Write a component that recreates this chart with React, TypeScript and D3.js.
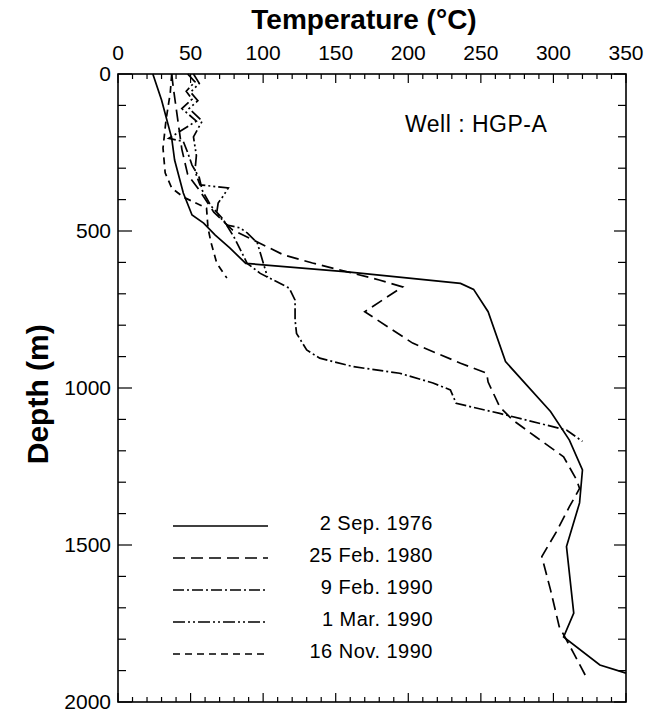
import * as d3 from "d3";

// axis ticks
const tempTicks = [0, 50, 100, 150, 200, 250, 300, 350];
const depthTicks = [0, 500, 1000, 1500, 2000];

// 2 Sep. 1976 (solid)
const sep1976Temp = [24, 30, 37, 39, 45, 51, 59, 67, 77, 88, 158, 236, 245, 255, 267, 298, 311, 320, 318, 309, 314, 307, 332, 350];
const sep1976Depth = [0, 83, 204, 274, 379, 449, 475, 513, 554, 603, 630, 667, 686, 757, 916, 1075, 1166, 1261, 1366, 1505, 1717, 1793, 1882, 1908];

// 25 Feb. 1980 (long dash)
const feb1980Temp = [37, 38, 41, 44, 48, 56, 66, 79, 96, 114, 134, 158, 180, 196, 170, 203, 236, 254, 255, 263, 272, 288, 307, 316, 318, 311, 302, 292, 298, 304, 314, 323];
const feb1980Depth = [0, 40, 140, 240, 320, 370, 440, 497, 535, 576, 602, 630, 656, 678, 757, 857, 921, 953, 981, 1060, 1102, 1156, 1219, 1293, 1320, 1378, 1458, 1537, 1643, 1760, 1845, 1924];

// 9 Feb. 1990 (dash-dot)
const feb1990Temp = [48, 53, 47, 51, 44, 54, 35, 45, 48, 51, 56, 58, 64, 72, 80, 89, 98, 118, 122, 122, 123, 130, 139, 162, 194, 217, 229, 233, 263, 309, 320];
const feb1990Depth = [0, 25, 55, 80, 110, 150, 205, 215, 250, 290, 330, 370, 420, 460, 520, 603, 635, 682, 720, 783, 826, 879, 905, 932, 953, 984, 1006, 1049, 1081, 1134, 1170];

// 1 Mar. 1990 (dash-dot-dot)
const mar1990Temp = [52, 56, 50, 55, 49, 58, 52, 54, 53, 56.5, 76, 72, 69, 68, 72, 75, 84, 89, 96, 103];
const mar1990Depth = [0, 30, 58, 85, 110, 150, 200, 260, 310, 353, 363, 392, 411, 443, 465, 481, 490, 506, 538, 647];

// 16 Nov. 1990 (short dash)
const nov1990Temp = [37, 36, 33, 31, 32.5, 37, 45, 56.5, 61, 62, 64, 68, 75];
const nov1990Depth = [0, 60, 150, 236, 315, 363, 392, 417, 427, 490, 535, 602, 650];

const series = [
  { label: "2 Sep. 1976", temp: sep1976Temp, depth: sep1976Depth, dash: "none" },
  { label: "25 Feb. 1980", temp: feb1980Temp, depth: feb1980Depth, dash: "12,6" },
  { label: "9 Feb. 1990", temp: feb1990Temp, depth: feb1990Depth, dash: "11,3,2,3" },
  { label: "1 Mar. 1990", temp: mar1990Temp, depth: mar1990Depth, dash: "12,3,2,3,2,3" },
  { label: "16 Nov. 1990", temp: nov1990Temp, depth: nov1990Depth, dash: "7,5" },
];

const font = "'Liberation Sans', Arial, Helvetica, sans-serif";

export default function App() {
  const width = 648;
  const height = 720;
  const left = 118, right = 626, top = 74, bottom = 702;

  const x = d3.scaleLinear().domain([0, 350]).range([left, right]);
  const y = d3.scaleLinear().domain([0, 2000]).range([top, bottom]);

  const minorT = x.ticks(35);
  const minorD = y.ticks(20);

  const line = d3
    .line<[number, number]>()
    .x((d) => x(d[0]))
    .y((d) => y(d[1]));

  return (
    <svg
      width={width}
      height={height}
      style={{ position: "absolute", left: 0, top: 0, background: "#fff" }}
      fontFamily={font}
    >
      {/* curves */}
      <g fill="none" stroke="#000" strokeWidth={1.7}>
        {series.map((s) => (
          <path
            key={s.label}
            d={line(s.temp.map((t, i) => [t, s.depth[i]]) as [number, number][]) || ""}
            strokeDasharray={s.dash}
          />
        ))}
      </g>

      {/* frame */}
      <rect x={left} y={top} width={right - left} height={bottom - top} fill="none" stroke="#000" strokeWidth={1.6} />

      {/* ticks on all four sides, pointing inward */}
      <g stroke="#000" strokeWidth={1.2}>
        {minorT.map((t) => {
          const len = t % 50 === 0 ? 9 : 5;
          return (
            <g key={"t" + t}>
              <line x1={x(t)} x2={x(t)} y1={top} y2={top + len} />
              <line x1={x(t)} x2={x(t)} y1={bottom} y2={bottom - len} />
            </g>
          );
        })}
        {minorD.map((d) => {
          const major = d % 500 === 0;
          return (
            <g key={"d" + d}>
              <line x1={left} x2={left + (major ? 14 : 8)} y1={y(d)} y2={y(d)} />
              <line x1={right} x2={right - (major ? 12 : 8)} y1={y(d)} y2={y(d)} />
            </g>
          );
        })}
      </g>

      {/* tick labels */}
      <g fontSize={21} fill="#000">
        {tempTicks.map((t) => (
          <text key={"tl" + t} x={x(t)} y={60} textAnchor="middle">
            {t}
          </text>
        ))}
        {depthTicks.map((d) => (
          <text key={"dl" + d} x={111} y={y(d)} dy="0.35em" textAnchor="end">
            {d}
          </text>
        ))}
      </g>

      {/* axis titles */}
      <text x={364} y={29} textAnchor="middle" fontSize={28} fontWeight="bold">
        Temperature (°C)
      </text>
      <text
        transform={`translate(48,${y(1020)}) rotate(-90)`}
        textAnchor="middle"
        fontSize={30}
        fontWeight="bold"
      >
        Depth (m)
      </text>

      <text x={405} y={132} fontSize={23} letterSpacing={0.5}>
        Well : HGP-A
      </text>

      {/* legend */}
      <g>
        {series.map((s, i) => {
          const base = 530 + i * 32;
          return (
            <g key={"lg" + s.label}>
              <line x1={173} x2={268} y1={base - 4} y2={base - 4} stroke="#000" strokeWidth={1.7} strokeDasharray={s.dash} />
              <text x={433} y={base} textAnchor="end" fontSize={20} letterSpacing={0.5}>
                {s.label}
              </text>
            </g>
          );
        })}
      </g>
    </svg>
  );
}
